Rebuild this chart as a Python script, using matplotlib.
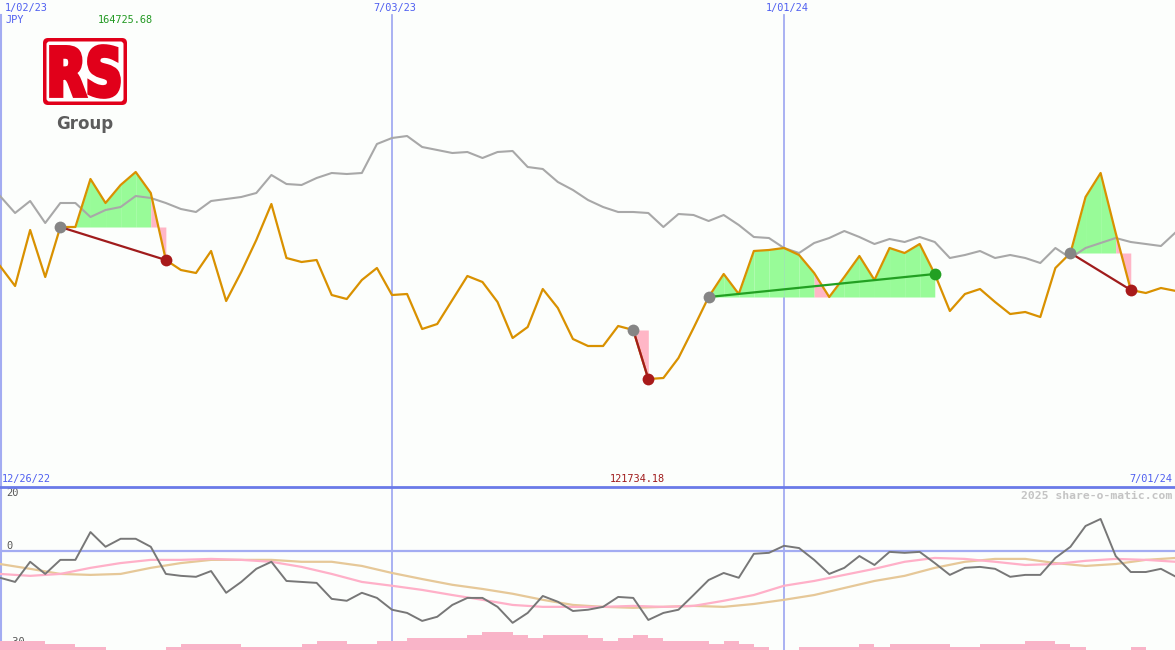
import numpy as np
import matplotlib
matplotlib.use("Agg")
import matplotlib.pyplot as plt
from matplotlib.patches import FancyBboxPatch, PathPatch
from matplotlib.textpath import TextPath
from matplotlib.font_manager import FontProperties
from matplotlib.transforms import Affine2D, blended_transform_factory

# ---------------- data ----------------
weeks = np.arange(79)  # week 0 = 1/02/23 ... week 78 = 7/01/24
price = [141243, 139478, 144422, 140272, 144686, 144686, 148924, 146805, 148394, 149542,
         147688, 141773, 140890, 140626, 142568, 138154, 140714, 143539, 146717, 141950,
         141597, 141773, 138683, 138330, 140008, 141067, 138683, 138772, 135682, 136123,
         138242, 140361, 139831, 138065, 134887, 135858, 139213, 137536, 134799, 134181,
         134181, 135947, 135594, 131268, 131356, 133122, 135770, 138507, 140537, 138772,
         142568, 142656, 142833, 142215, 140626, 138507, 140272, 142126, 140008, 142833,
         142391, 143186, 140537, 137271, 138772, 139213, 138065, 137006, 137183, 136741,
         141067, 142391, 147335, 149454, 144157, 139125, 138860, 139301, 139037]
ma_price = [147423, 145922, 146982, 145040, 146805, 146805, 145569, 146187, 146452, 147423,
            147247, 146805, 146275, 146011, 146982, 147158, 147335, 147688, 149277, 148482,
            148394, 149012, 149454, 149365, 149454, 152014, 152543, 152720, 151749, 151484,
            151219, 151307, 150778, 151307, 151396, 149983, 149807, 148659, 147953, 147070,
            146452, 146011, 146011, 145922, 144686, 145834, 145746, 145216, 145746, 144863,
            143804, 143715, 142833, 142391, 143274, 143715, 144333, 143804, 143186, 143627,
            143362, 143804, 143362, 141950, 142215, 142568, 141950, 142215, 141950, 141508,
            142833, 141950, 142833, 143274, 143715, 143362, 143186, 143009, 144245]
price_high = 164725.68
price_low = 121734.18

# trades: entry week, exit week, outcome
trade_entry = [4, 42, 47, 71]
trade_exit = [11, 43, 62, 75]
trade_win = [False, False, True, False]
pink_segments = [10, 42, 54, 74]  # week segments shaded pink inside trades

# lower panel
osc = [-8.4, -9.7, -3.4, -7.2, -2.8, -2.8, 5.9, 1.3, 3.8, 3.8,
       1.3, -7.2, -7.8, -8.1, -6.3, -13.1, -9.7, -5.6, -3.4, -9.4,
       -9.7, -10.0, -15.0, -15.6, -13.1, -14.7, -18.4, -19.4, -21.9, -20.6,
       -16.9, -14.7, -14.7, -17.5, -22.5, -19.4, -14.1, -15.9, -18.8, -18.4,
       -17.5, -14.4, -14.7, -21.6, -19.4, -18.4, -13.8, -9.1, -6.9, -8.4,
       -0.9, -0.6, 1.6, 0.9, -2.8, -7.2, -5.3, -1.6, -4.4, -0.3,
       -0.6, -0.3, -3.8, -7.5, -5.3, -5.0, -5.6, -8.1, -7.5, -7.5,
       -2.2, 1.3, 7.8, 10.0, -1.6, -6.6, -6.6, -5.6, -8.1]
ma_weeks = np.arange(0, 79, 2)
osc_fast = [-7.2, -7.8, -7.2, -5.3, -3.8, -2.8, -2.8, -2.5, -2.8, -3.4,
            -5.0, -7.2, -9.7, -10.9, -12.2, -13.8, -15.3, -16.9, -17.5, -17.5,
            -17.5, -17.2, -17.5, -17.2, -15.6, -13.8, -10.9, -9.4, -7.5, -5.6,
            -3.4, -2.2, -2.5, -3.4, -4.4, -4.1, -3.1, -2.5, -2.8, -3.4]
osc_slow = [-4.1, -5.6, -7.2, -7.5, -7.2, -5.3, -3.8, -2.8, -2.8, -2.8,
            -3.4, -3.4, -4.7, -6.9, -8.8, -10.6, -11.9, -13.4, -15.3, -16.9,
            -17.5, -17.8, -17.5, -17.2, -17.5, -16.6, -15.3, -13.8, -11.6, -9.4,
            -7.8, -5.3, -3.4, -2.5, -2.5, -3.8, -4.7, -4.1, -2.8, -2.2]
vol_levels = [3, 3, 3, 2, 2, 1, 1, 0, 0, 0, 0, 1, 2, 2, 2, 2, 1, 1, 1, 1,
              2, 3, 3, 2, 2, 3, 3, 4, 4, 4, 4, 5, 6, 6, 5, 4, 5, 5, 5, 4,
              3, 4, 5, 4, 3, 3, 3, 2, 3, 2, 1, 0, 0, 1, 1, 1, 1, 2, 1, 2,
              2, 2, 2, 1, 1, 2, 2, 2, 3, 3, 2, 1, 0, 0, 0, 1, 0, 0]
osc_top, osc_bottom = 20, -31

grid_weeks = [0, 26, 52]
grid_labels = ["1/02/23", "7/03/23", "1/01/24"]

# ---------------- style ----------------
BG = "#fcfefc"
ORANGE = "#d99100"
GRAYLINE = "#a8a8a8"
BLUE_TXT = "#4f5ff0"
GRID = "#a3acf2"
GREEN_FILL = "#98fb98"
PINK_FILL = "#ffb6c6"
MONO = "DejaVu Sans Mono"

W, H = 1175, 650
px_per_week = 392 / 26.0
xmax = W / px_per_week

fig = plt.figure(figsize=(W / 100, H / 100), dpi=100, facecolor=BG)
ax = fig.add_axes([0, 163 / H, 1, 487 / H])
ax2 = fig.add_axes([0, 0, 1, 163 / H])
for a in (ax, ax2):
    a.set_facecolor(BG)
    a.set_xlim(0, xmax)
    a.set_xticks([])
    a.set_yticks([])
    for s in a.spines.values():
        s.set_visible(False)

ax.set_ylim(price_low, price_high)
ax2.set_ylim(osc_bottom, osc_top)

price = np.array(price, dtype=float)

# vertical grid lines
for wk in grid_weeks:
    ax.axvline(wk, ymin=0, ymax=1 - 15 / 487, color=GRID, lw=1.3, zorder=1)
    ax2.axvline(wk, color=GRID, lw=1.3, zorder=1)
ax.axvline(0.07, ymin=0, ymax=1 - 15 / 487, color=GRID, lw=1.5, zorder=1)
ax2.axvline(0.07, color=GRID, lw=1.5, zorder=1)

# gray moving average
ax.plot(weeks, ma_price, color=GRAYLINE, lw=1.5, zorder=3)

# trade fills
for e, x, win in zip(trade_entry, trade_exit, trade_win):
    lvl = price[e]
    for k in range(e, x):
        xs = np.array([k, k + 1], dtype=float)
        ys = price[k:k + 2]
        if k in pink_segments:
            ax.fill_between(xs, lvl, ys, color=PINK_FILL, lw=0, zorder=2)
        else:
            ax.fill_between(xs, lvl, ys, where=[True, True] if min(ys) >= lvl else ys >= lvl,
                            interpolate=True, color=GREEN_FILL, lw=0, zorder=2)

# price line
ax.plot(weeks, price, color=ORANGE, lw=1.6, zorder=4)

# trade lines and markers
for e, x, win in zip(trade_entry, trade_exit, trade_win):
    c = "#22a022" if win else "#a01c1c"
    ax.plot([e, x], [price[e], price[x]], color=c, lw=1.6, zorder=5)
    ax.plot([e], [price[e]], "o", color="#858585", ms=8.5, mec="none", zorder=6)
    ax.plot([x], [price[x]], "o", color="#22a022" if win else "#a81a1a", ms=8.5, mec="none", zorder=6)

# lower panel
ax2.bar(np.arange(len(vol_levels)) + 0.5, np.array(vol_levels) * 0.95, width=1.0,
        bottom=osc_bottom, color="#f9b4c8", lw=0, zorder=3)
ax2.axhline(0, color=GRID, lw=1.6, zorder=1)
ax2.plot(ma_weeks, osc_slow, color="#e6c898", lw=1.6, zorder=4)
ax2.plot(ma_weeks, osc_fast, color="#ffb0c8", lw=1.6, zorder=4)
ax2.plot(weeks, osc, color="#777777", lw=1.4, zorder=5)
ax2.spines["top"].set_visible(True)
ax2.spines["top"].set_color("#6a7ae8")
ax2.spines["top"].set_linewidth(2)

tr2 = blended_transform_factory(ax2.transAxes, ax2.transData)
ax2.text(6 / W, 18.0, "20", transform=tr2, fontsize=7.5, family=MONO, color="#555555",
         va="center", ha="left", zorder=2)
ax2.text(6 / W, 1.6, "0", transform=tr2, fontsize=7.5, family=MONO, color="#555555",
         va="center", ha="left", zorder=2)
ax2.text(6 / W, -28.6, "-30", transform=tr2, fontsize=7.5, family=MONO, color="#555555",
         va="center", ha="left", zorder=2)

# ---------------- overlay texts & logo (pixel coordinates) ----------------
ov = fig.add_axes([0, 0, 1, 1], zorder=10)
ov.set_xlim(0, W)
ov.set_ylim(H, 0)
ov.axis("off")
ov.patch.set_alpha(0)

fs = 7.4
ov.text(5, 8, grid_labels[0], fontsize=fs, family=MONO, color=BLUE_TXT, va="center", ha="left")
for wk, lab in zip(grid_weeks[1:], grid_labels[1:]):
    ov.text(wk * px_per_week + 3, 8, lab, fontsize=fs, family=MONO, color=BLUE_TXT,
            va="center", ha="center")
ov.text(5, 20, "JPY", fontsize=fs, family=MONO, color=BLUE_TXT, va="center", ha="left")
ov.text(98, 20, f"{price_high:.2f}", fontsize=fs, family=MONO, color="#229922", va="center", ha="left")
ov.text(2, 479, "12/26/22", fontsize=fs, family=MONO, color=BLUE_TXT, va="center", ha="left")
ov.text(637, 479, f"{price_low:.2f}", fontsize=fs, family=MONO, color="#a01c1c", va="center", ha="center")
ov.text(1172, 479, "7/01/24", fontsize=fs, family=MONO, color=BLUE_TXT, va="center", ha="right")
ov.text(1172, 496, "2025 share-o-matic.com", fontsize=8.2, family=MONO, weight="bold",
        color="#c4c4c4", va="center", ha="right")

# logo
RED = "#e1001a"
ov.add_patch(FancyBboxPatch((43, 38), 84, 67, boxstyle="round,pad=0,rounding_size=5",
                            fc=RED, ec="none"))
ov.add_patch(FancyBboxPatch((46.5, 41.5), 77, 60, boxstyle="round,pad=0,rounding_size=3",
                            fc="white", ec="none"))
tp = TextPath((0, 0), "RS", size=1, prop=FontProperties(family="DejaVu Sans", weight="bold"))
bb = tp.get_extents()
x0, x1, ytop, ybot = 51.5, 118.5, 46.5, 96.5
t = Affine2D().translate(-bb.x0, -bb.y0).scale((x1 - x0) / bb.width, -(ybot - ytop) / bb.height).translate(x0, ybot)
ov.add_patch(PathPatch(t.transform_path(tp), fc=RED, ec=RED, lw=3.4, joinstyle="miter"))
ov.text(85, 124, "Group", fontsize=12, family="DejaVu Sans", weight="bold", color="#5c5c5c",
        va="center", ha="center")

fig.savefig("out.png", dpi=100, facecolor=BG)
